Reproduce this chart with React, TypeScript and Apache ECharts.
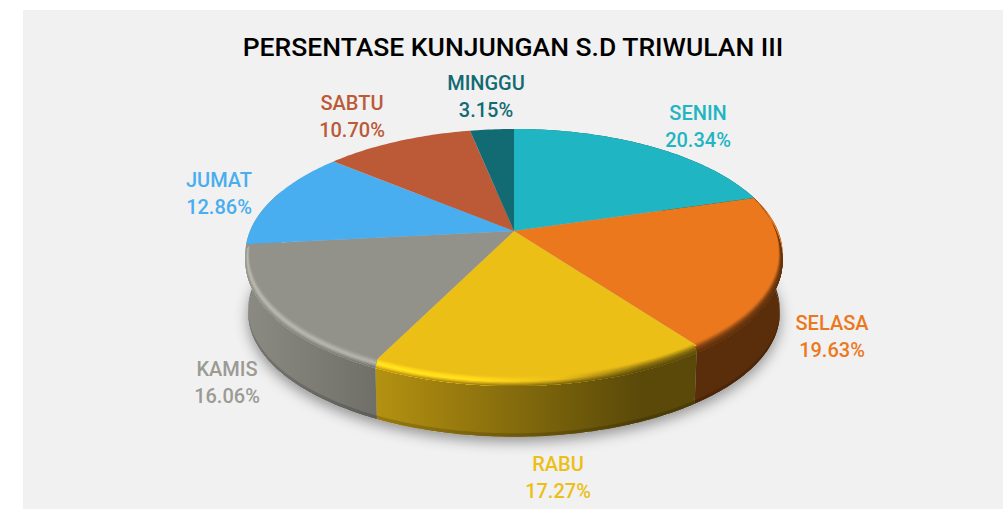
import React, { useEffect, useRef } from "react";
import * as echarts from "echarts";

const TITLE = "PERSENTASE KUNJUNGAN S.D TRIWULAN III";
const DAYS = ["SENIN", "SELASA", "RABU", "KAMIS", "JUMAT", "SABTU", "MINGGU"];
const SHARES = [20.34, 19.63, 17.27, 16.06, 12.86, 10.7, 3.15];
const COLORS = ["#1fb5c3", "#ec781e", "#ecbf17", "#92928a", "#49aeef", "#bc5937", "#126a73"];
const LABEL_COLORS = ["#1fb5c3", "#ec781e", "#ecbf17", "#9b9b94", "#49aeef", "#bc5937", "#126a73"];
const LABEL_ANCHORS = [
  [698, 126],
  [832, 336],
  [558, 477],
  [227, 382],
  [219, 193],
  [352, 116],
  [486, 96],
];

// 3D pie geometry (a tilted disc under a perspective projection)
const CX = 514;
const CY = 231;
const SX = 264;
const SY = 120.8;
const P = 0.184;
const BEVEL_DROP = 7;
const BEVEL_INSET = 0.015;
const WALL_R = 0.99;
const WALL_DROP = 59.5;
const X0 = 245;
const X1 = 782;
const GRAD_XS = [245, 350, 470, 560, 640, 782];
const LAST_WALL_SLICE = 3; // the grey slice's wall wraps round the visible left side
const WALL_WRAP = 0.45;

const TOTAL = SHARES.reduce((a, b) => a + b, 0);

function project(theta: number, r: number, drop: number): number[] {
  const x = r * Math.sin(theta);
  const y = -r * Math.cos(theta);
  const w = 1 - P * y;
  return [CX + (SX * x) / w, CY + (SY * y) / w + drop];
}

function sliceRange(i: number): number[] {
  let acc = 0;
  for (let k = 0; k < i; k++) acc += SHARES[k];
  const a = (acc / TOTAL) * Math.PI * 2;
  const b = ((acc + SHARES[i]) / TOTAL) * Math.PI * 2;
  return [a, b];
}

function thetas(a: number, b: number): number[] {
  const n = Math.max(4, Math.ceil(((b - a) * 180) / Math.PI));
  const out: number[] = [];
  for (let i = 0; i <= n; i++) out.push(a + ((b - a) * i) / n);
  return out;
}

function interp(x: number, xs: number[], ys: number[]): number {
  if (x <= xs[0]) return ys[0];
  for (let i = 1; i < xs.length; i++) {
    if (x <= xs[i]) return ys[i - 1] + ((ys[i] - ys[i - 1]) * (x - xs[i - 1])) / (xs[i] - xs[i - 1]);
  }
  return ys[ys.length - 1];
}

const wallShade = (x: number) => interp(x, [245, 640, 782], [0.95, 0.38, 0.38]);
const glint = (x: number) => interp(x, [245, 470, 560, 640, 782], [1.3, 1.22, 1.0, 0.6, 0.5]);

function shade(hex: string, m: number): string {
  const c = [1, 3, 5].map((i) => parseInt(hex.slice(i, i + 2), 16));
  return "rgb(" + c.map((v) => Math.max(0, Math.min(255, Math.round(v * m)))).join(",") + ")";
}

function gradient(hex: string, mult: (x: number) => number): any {
  return {
    type: "linear",
    x: X0,
    y: 0,
    x2: X1,
    y2: 0,
    global: true,
    colorStops: GRAD_XS.map((x) => ({ offset: (x - X0) / (X1 - X0), color: shade(hex, mult(x)) })),
  };
}

function bevelAmount(theta: number): number {
  const y = -Math.cos(theta);
  return Math.max(0, Math.min(1, (y + 0.3) / 0.45));
}

function rim(theta: number, t: number): number[] {
  const f = bevelAmount(theta);
  return project(theta, 1 - BEVEL_INSET * f * (1 - t), BEVEL_DROP * f * t);
}

function renderShadow() {
  const pts = thetas(0, Math.PI * 2).map((t) => project(t, WALL_R, WALL_DROP));
  return {
    type: "polygon",
    shape: { points: pts },
    style: {
      fill: "#b5b5b5",
      shadowBlur: 14,
      shadowOffsetY: 5,
      shadowColor: "rgba(0,0,0,0.4)",
    },
    silent: true,
  };
}

function renderWall(params: any) {
  const i = params.dataIndex;
  if (i > LAST_WALL_SLICE) return { type: "group", children: [] };
  const [a, b0] = sliceRange(i);
  const b = i === LAST_WALL_SLICE ? b0 + WALL_WRAP : b0;
  const ts = thetas(a, b);
  const hex = COLORS[i];
  const top = ts.map((t) => project(t, 1, 0));
  const bottom = ts.map((t) => project(t, WALL_R, WALL_DROP));
  const lip = ts.map((t) => project(t, WALL_R, WALL_DROP - 3.5));
  return {
    type: "group",
    silent: true,
    children: [
      {
        type: "polygon",
        shape: { points: top.concat(bottom.slice().reverse()) },
        style: { fill: gradient(hex, wallShade) },
      },
      {
        type: "polygon",
        shape: { points: lip.concat(bottom.slice().reverse()) },
        style: { fill: gradient(hex, (x) => wallShade(x) * 0.84) },
      },
    ],
  };
}

function renderTop(params: any) {
  const i = params.dataIndex;
  const [a, b] = sliceRange(i);
  const ts = thetas(a, b);
  const hex = COLORS[i];
  const children: any[] = [
    {
      type: "polygon",
      shape: { points: [[CX, CY]].concat(ts.map((t) => project(t, 1, 0))) },
      style: { fill: hex },
    },
  ];
  if (i <= LAST_WALL_SLICE) {
    const outer = ts.map((t) => rim(t, 1));
    const N = 8;
    for (let j = 0; j < N; j++) {
      const t0 = j / N;
      const tm = (j + 0.5) / N;
      const inner = ts.map((t) => rim(t, t0));
      const mult = (x: number) =>
        tm < 0.5 ? 1 + (glint(x) - 1) * (tm / 0.5) : glint(x) + (wallShade(x) - glint(x)) * ((tm - 0.5) / 0.5);
      children.push({
        type: "polygon",
        shape: { points: inner.concat(outer.slice().reverse()) },
        style: { fill: gradient(hex, mult) },
      });
    }
  }
  return { type: "group", silent: true, children };
}

function renderLabel(params: any) {
  const i = params.dataIndex;
  const [x, y] = LABEL_ANCHORS[i];
  return {
    type: "text",
    x,
    y,
    silent: true,
    style: {
      text: DAYS[i] + "\n" + SHARES[i].toFixed(2) + "%",
      fill: LABEL_COLORS[i],
      font: "500 20px Roboto",
      lineHeight: 27,
      align: "center",
      verticalAlign: "middle",
    },
  };
}

export default function App() {
  const ref = useRef<HTMLDivElement>(null);
  useEffect(() => {
    const chart = echarts.init(ref.current!, null, { renderer: "svg" });
    const data = SHARES.map((v, i) => ({ name: DAYS[i], value: v }));
    chart.setOption({
      animation: false,
      title: {
        text: TITLE,
        left: 508,
        top: 28,
        textAlign: "center",
        textStyle: { fontFamily: "Roboto", fontSize: 26.5, fontWeight: 500, color: "#000000" },
      },
      graphic: [
        { type: "rect", z: -10, silent: true, shape: { x: 23, y: 10, width: 980, height: 499 }, style: { fill: "#f1f1f1" } },
      ],
      series: [
        { type: "custom", coordinateSystem: "none", z: 1, data: [{ name: "shadow", value: 1 }], renderItem: renderShadow },
        { type: "custom", coordinateSystem: "none", z: 2, data, renderItem: renderWall },
        { type: "custom", coordinateSystem: "none", z: 3, data, renderItem: renderTop },
        { type: "custom", coordinateSystem: "none", z: 4, data, renderItem: renderLabel },
      ],
    });
    return () => chart.dispose();
  }, []);
  return <div ref={ref} style={{ position: "absolute", left: 0, top: 0, width: 1003, height: 509 }} />;
}
